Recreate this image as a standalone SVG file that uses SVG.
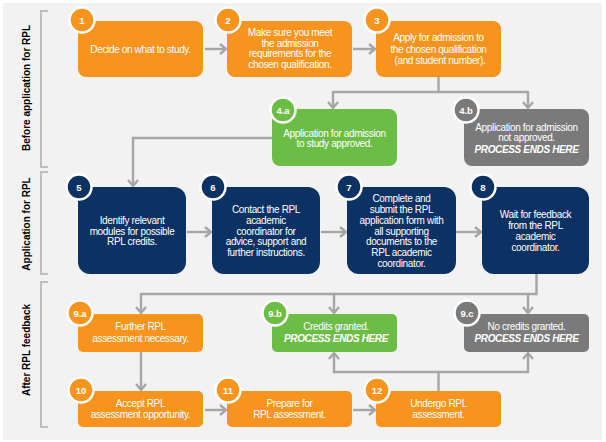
<svg xmlns="http://www.w3.org/2000/svg" width="606" height="442" viewBox="0 0 606 442">
<defs>
<marker id="ah" markerUnits="userSpaceOnUse" markerWidth="10" markerHeight="12" viewBox="0 0 10 12" refX="8" refY="6" orient="auto">
<path d="M2,1 L8,6 L2,11" fill="none" stroke="#a6a6a6" stroke-width="2.4"/>
</marker>
</defs>
<style>
.bg{fill:#f2f2f2}
.or{fill:#f7941e}
.gr{fill:#6cbd45}
.nv{fill:#0c3163}
.gy{fill:#7a7a7a}
.badge{stroke:#ffffff;stroke-width:2.5}
.bt{font-family:"Liberation Sans",Arial,sans-serif;font-size:9.5px;font-weight:bold;fill:#ffffff;text-anchor:middle}
.t{font-family:"Liberation Sans",Arial,sans-serif;font-size:10px;fill:#ffffff;text-anchor:middle;letter-spacing:-0.35px}
.bi{font-weight:bold;font-style:italic}
.con{fill:none;stroke:#a6a6a6;stroke-width:2.4}
.br{fill:none;stroke:#bfbfbf;stroke-width:2}
.sec{font-family:"Liberation Sans",Arial,sans-serif;font-size:10px;font-weight:bold;fill:#000000;text-anchor:middle}
</style>
<rect x="0" y="0" width="606" height="442" fill="#ffffff"/>
<rect class="bg" x="3" y="3" width="599" height="437"/>

<g id="sections">
<path class="br" d="M48,11 H41 V167 H48"/>
<path class="br" d="M48,172 H41 V274 H48"/>
<path class="br" d="M48,282 H41 V427 H48"/>
<text class="sec" transform="translate(30,88) rotate(-90)">Before application for RPL</text>
<text class="sec" transform="translate(30,224) rotate(-90)">Application for RPL</text>
<text class="sec" transform="translate(30,350) rotate(-90)">After RPL feedback</text>
</g>

<g id="connectors">
<path class="con" marker-end="url(#ah)" d="M205,49 H226"/>
<path class="con" marker-end="url(#ah)" d="M353,49 H375"/>
<path class="con" d="M438.5,77 V92 M333,92 H528"/>
<path class="con" marker-end="url(#ah)" d="M333,91 V108"/>
<path class="con" marker-end="url(#ah)" d="M528,91 V108"/>
<path class="con" marker-end="url(#ah)" d="M272,138 H133 V186"/>
<path class="con" marker-end="url(#ah)" d="M187,232 H211"/>
<path class="con" marker-end="url(#ah)" d="M321,232 H346"/>
<path class="con" marker-end="url(#ah)" d="M456,232 H481"/>
<path class="con" d="M536.5,274 V294 H141"/>
<path class="con" marker-end="url(#ah)" d="M141,293 V313"/>
<path class="con" marker-end="url(#ah)" d="M334,294 V313"/>
<path class="con" marker-end="url(#ah)" d="M528,294 V313"/>
<path class="con" marker-end="url(#ah)" d="M141,352 V390"/>
<path class="con" marker-end="url(#ah)" d="M205,410 H226"/>
<path class="con" marker-end="url(#ah)" d="M353,410 H375"/>
<path class="con" d="M438.5,391 V372 M333,372 H529"/>
<path class="con" marker-end="url(#ah)" d="M334,373 V353"/>
<path class="con" marker-end="url(#ah)" d="M528,373 V353"/>
</g>

<g id="n1">
<rect class="or" x="78" y="21" width="125" height="56" rx="8"/>
<circle class="or badge" cx="82" cy="20" r="12.5"/>
<text class="bt" x="82" y="23.5">1</text>
<text class="t" x="140.5" y="52.5">Decide on what to study.</text>
</g>
<g id="n2">
<rect class="or" x="227" y="21" width="125" height="56" rx="8"/>
<circle class="or badge" cx="228" cy="20" r="12.5"/>
<text class="bt" x="228" y="23.5">2</text>
<text class="t" x="290" y="36.2">Make sure you meet</text>
<text class="t" x="290" y="46.8">the admission</text>
<text class="t" x="290" y="57.3">requirements for the</text>
<text class="t" x="290" y="68">chosen qualification.</text>
</g>
<g id="n3">
<rect class="or" x="376" y="21" width="125" height="56" rx="8"/>
<circle class="or badge" cx="377" cy="20" r="12.5"/>
<text class="bt" x="377" y="23.5">3</text>
<text class="t" x="438.5" y="40.8">Apply for admission to</text>
<text class="t" x="438.5" y="52.5">the chosen qualification</text>
<text class="t" x="440" y="63.5">(and student number).</text>
</g>
<g id="n4a">
<rect class="gr" x="272" y="109" width="125" height="57" rx="8"/>
<circle class="gr badge" cx="283" cy="110" r="12.5"/>
<text class="bt" x="283" y="113.5">4.a</text>
<text class="t" x="334.5" y="136.8">Application for admission</text>
<text class="t" x="334.5" y="146.8">to study approved.</text>
</g>
<g id="n4b">
<rect class="gy" x="464" y="109" width="125" height="57" rx="8"/>
<circle class="gy badge" cx="466" cy="110" r="12.5"/>
<text class="bt" x="466" y="113.5">4.b</text>
<text class="t" x="526.5" y="130.8">Application for admission</text>
<text class="t" x="526.5" y="141.2">not approved.</text>
<text class="t bi" x="526.5" y="152.5">PROCESS ENDS HERE</text>
</g>
<g id="n5">
<rect class="nv" x="78" y="187" width="108" height="87" rx="12"/>
<circle class="nv badge" cx="79" cy="187" r="12.5"/>
<text class="bt" x="79" y="190.5">5</text>
<text class="t" x="132" y="223.5">Identify relevant</text>
<text class="t" x="132" y="234.5">modules for possible</text>
<text class="t" x="132" y="245.2">RPL credits.</text>
</g>
<g id="n6">
<rect class="nv" x="212" y="187" width="108" height="87" rx="12"/>
<circle class="nv badge" cx="213" cy="187" r="12.5"/>
<text class="bt" x="213" y="190.5">6</text>
<text class="t" x="266" y="212.8">Contact the RPL</text>
<text class="t" x="266" y="224.2">academic</text>
<text class="t" x="266" y="234.5">coordinator for</text>
<text class="t" x="266" y="245.2">advice, support and</text>
<text class="t" x="266" y="255.8">further instructions.</text>
</g>
<g id="n7">
<rect class="nv" x="347" y="187" width="109" height="87" rx="12"/>
<circle class="nv badge" cx="349" cy="187" r="12.5"/>
<text class="bt" x="349" y="190.5">7</text>
<text class="t" x="401.5" y="201.8">Complete and</text>
<text class="t" x="401.5" y="212.8">submit the RPL</text>
<text class="t" x="401.5" y="224.2">application form with</text>
<text class="t" x="401.5" y="234.5">all supporting</text>
<text class="t" x="401.5" y="245.2">documents to the</text>
<text class="t" x="401.5" y="256.2">RPL academic</text>
<text class="t" x="401.5" y="266.8">coordinator.</text>
</g>
<g id="n8">
<rect class="nv" x="482" y="187" width="107" height="87" rx="12"/>
<circle class="nv badge" cx="483" cy="187" r="12.5"/>
<text class="bt" x="483" y="190.5">8</text>
<text class="t" x="535.5" y="217.5">Wait for feedback</text>
<text class="t" x="535.5" y="229.2">from the RPL</text>
<text class="t" x="535.5" y="240.2">academic</text>
<text class="t" x="535.5" y="250.8">coordinator.</text>
</g>
<g id="n9a">
<rect class="or" x="78" y="314" width="125" height="38" rx="5"/>
<circle class="or badge" cx="80" cy="313" r="12.5"/>
<text class="bt" x="80" y="316.5">9.a</text>
<text class="t" x="140.5" y="330.2">Further RPL</text>
<text class="t" x="140.5" y="342.2">assessment necessary.</text>
</g>
<g id="n9b">
<rect class="gr" x="272" y="314" width="125" height="38" rx="5"/>
<circle class="gr badge" cx="275" cy="313" r="12.5"/>
<text class="bt" x="275" y="316.5">9.b</text>
<text class="t" x="336" y="330.2">Credits granted.</text>
<text class="t bi" x="336" y="342.2">PROCESS ENDS HERE</text>
</g>
<g id="n9c">
<rect class="gy" x="464" y="314" width="125" height="38" rx="5"/>
<circle class="gy badge" cx="467" cy="313" r="12.5"/>
<text class="bt" x="467" y="316.5">9.c</text>
<text class="t" x="526.5" y="330.2">No credits granted.</text>
<text class="t bi" x="526.5" y="342.2">PROCESS ENDS HERE</text>
</g>
<g id="n10">
<rect class="or" x="78" y="391" width="125" height="36" rx="5"/>
<circle class="or badge" cx="81" cy="390" r="12.5"/>
<text class="bt" x="81" y="393.5">10</text>
<text class="t" x="140.5" y="406.8">Accept RPL</text>
<text class="t" x="140.5" y="418.2">assessment opportunity.</text>
</g>
<g id="n11">
<rect class="or" x="227" y="391" width="125" height="36" rx="5"/>
<circle class="or badge" cx="228" cy="390" r="12.5"/>
<text class="bt" x="228" y="393.5">11</text>
<text class="t" x="289.5" y="406.8">Prepare for</text>
<text class="t" x="289.5" y="418.2">RPL assessment.</text>
</g>
<g id="n12">
<rect class="or" x="376" y="391" width="125" height="36" rx="5"/>
<circle class="or badge" cx="377" cy="390" r="12.5"/>
<text class="bt" x="377" y="393.5">12</text>
<text class="t" x="438.5" y="406.8">Undergo RPL</text>
<text class="t" x="438.5" y="418.2">assessment.</text>
</g>
</svg>
